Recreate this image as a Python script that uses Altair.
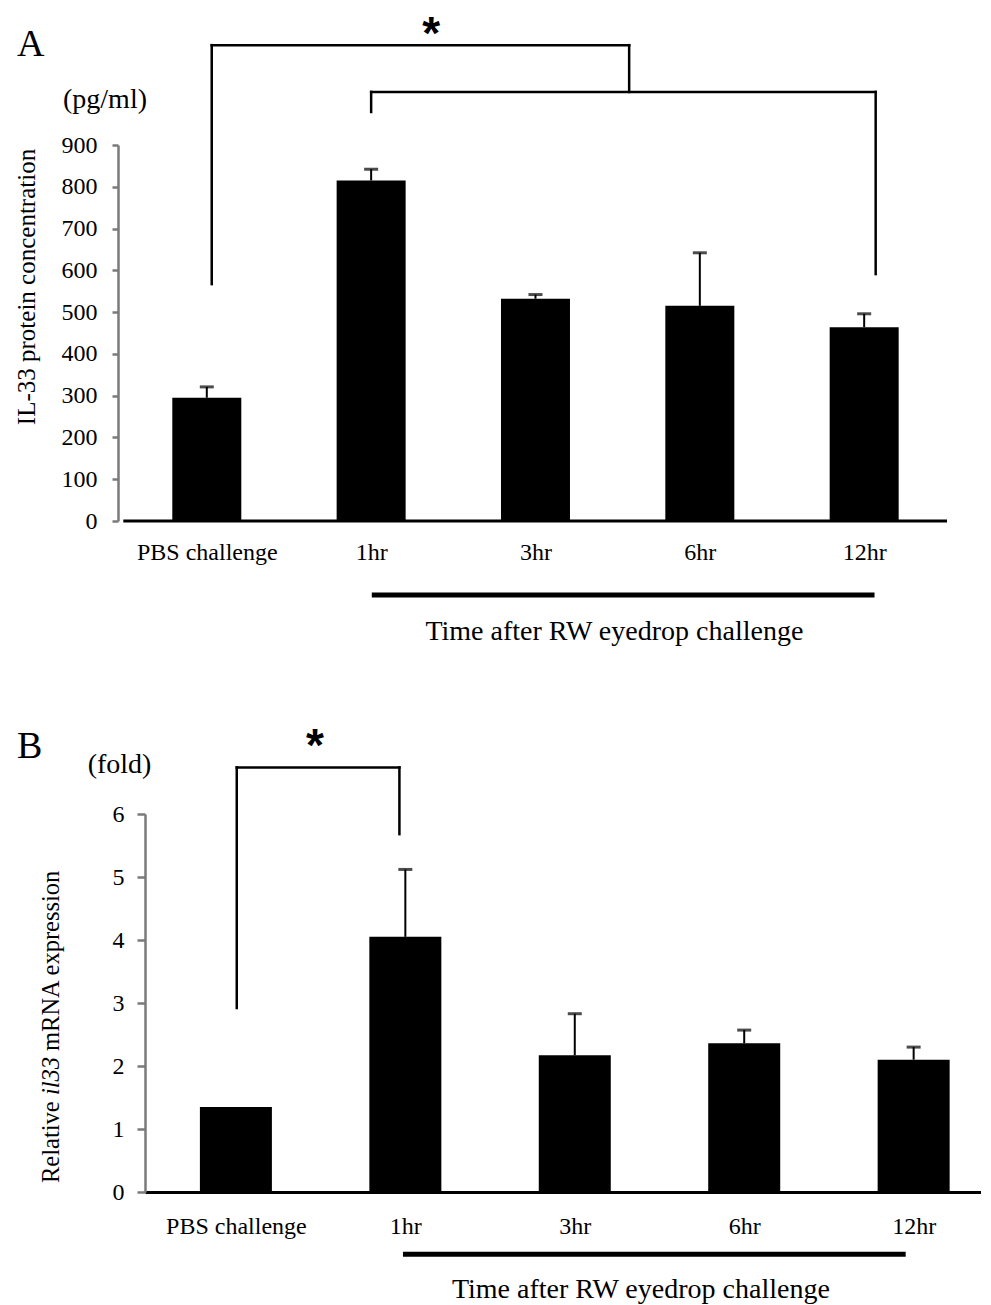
import json
import altair as alt
import pandas as pd

# ---------------- data ----------------
categories = ["PBS challenge", "1hr", "3hr", "6hr", "12hr"]
positions = [0, 1, 2, 3, 4]

# Panel A: IL-33 protein concentration (pg/ml), mean and upper error
protein_mean = [295, 815, 532, 515, 464]
protein_err = [26, 27, 10, 127, 32]
protein_ticks = [0, 100, 200, 300, 400, 500, 600, 700, 800, 900]

# Panel B: relative il33 mRNA expression (fold), mean and upper error
mrna_mean = [1.35, 4.05, 2.17, 2.36, 2.10]
mrna_err = [0.0, 1.07, 0.66, 0.21, 0.20]
mrna_ticks = [0, 1, 2, 3, 4, 5, 6]

# significance brackets, as segments in data units (x = category position)
bracketA_x1 = [0.03, 0.03, 2.57, 1.00, 1.00, 4.07]
bracketA_x2 = [0.03, 2.57, 2.57, 4.07, 1.00, 4.07]
bracketA_y1 = [567, 1139, 1027, 1027, 979, 591]
bracketA_y2 = [1139, 1139, 1139, 1027, 1027, 1027]

bracketB_x1 = [0.005, 0.005, 0.965]
bracketB_x2 = [0.005, 0.965, 0.965]
bracketB_y1 = [2.92, 6.74, 5.68]
bracketB_y2 = [6.74, 6.74, 6.74]

starA = {"x": [1.366], "y": [1163], "t": ["*"]}
starB = {"x": [0.466], "y": [7.07], "t": ["*"]}

underlineA = {"x": [1.004], "x2": [4.063], "y": [-177]}
underlineB = {"x": [0.986], "x2": [3.953], "y": [-0.99]}

# x-axis baseline extent of panel A (its y axis sits left of the plot origin)
baselineA = {"x": [-0.508], "x2": [4.504], "y": [0]}

time_label = "Time after RW eyedrop challenge"
timeA = {"x": [2.48], "y": [-266], "t": [time_label]}
timeB = {"x": [2.39], "y": [-1.55], "t": [time_label]}

SERIF = "Liberation Serif"
SANS = "Liberation Sans"


def xaxis(pad, domain):
    return alt.Axis(values=positions,
                    labelExpr=json.dumps(categories) + "[datum.value]",
                    title=None, ticks=False, grid=False, domain=domain,
                    domainColor="black", domainWidth=3,
                    labelFont=SERIF, labelFontSize=24, labelColor="black",
                    labelPadding=pad, labelOverlap=False, labelFlush=False)


def yaxis(ticks, tsize, pad, offset):
    return alt.Axis(values=ticks, title=None, grid=False, offset=offset,
                    domainColor="#7a7a7a", domainWidth=2.5,
                    tickColor="#7a7a7a", tickWidth=2.5, tickSize=tsize,
                    labelFont=SERIF, labelFontSize=24, labelColor="black",
                    labelPadding=pad, labelFlush=False, labelOverlap=False)


def panel(mean, err, ticks, xdom, ydom, width, height, bar_size, xpad, ytsize, ypad, yoffset,
          bx1, bx2, by1, by2, star, underline, timet, texts, frame, baseline=None):
    xs = alt.Scale(domain=xdom, nice=False, zero=False)
    ys = alt.Scale(domain=ydom, nice=False, zero=False)
    xa = xaxis(xpad, baseline is None)
    ya = yaxis(ticks, ytsize, ypad, yoffset)

    def X(f):
        return alt.X(f, scale=xs, axis=xa)

    def Y(f):
        return alt.Y(f, scale=ys, axis=ya)

    df = pd.DataFrame({"x": positions, "cat": categories, "mean": mean, "err": err})
    df["top"] = df["mean"] + df["err"]

    layers = []
    bars = alt.Chart(df).mark_bar(size=bar_size, color="black").encode(
        x=X("x:Q"), y=Y("mean:Q"))
    layers.append(bars)
    if baseline is not None:
        layers.append(alt.Chart(pd.DataFrame(baseline)).mark_rule(
            color="black", strokeWidth=3).encode(x=X("x:Q"), x2="x2:Q", y=Y("y:Q")))
    stems = alt.Chart(df).transform_filter("datum.err > 0").mark_rule(
        color="black", strokeWidth=2).encode(x=X("x:Q"), y=Y("mean:Q"), y2="top:Q")
    caps = alt.Chart(df).transform_filter("datum.err > 0").mark_tick(
        orient="horizontal", size=14, thickness=3, color="black").encode(
        x=X("x:Q"), y=Y("top:Q"))

    dbr = pd.DataFrame({"x1": bx1, "x2": bx2, "y1": by1, "y2": by2})
    brackets = alt.Chart(dbr).mark_rule(color="black", strokeWidth=2.5, strokeCap="square").encode(
        x=X("x1:Q"), x2="x2:Q", y=Y("y1:Q"), y2="y2:Q")

    stars = alt.Chart(pd.DataFrame(star)).mark_text(
        font=SANS, fontWeight="bold", fontSize=46, baseline="middle", align="center",
        color="black").encode(x=X("x:Q"), y=Y("y:Q"), text="t:N")

    uline = alt.Chart(pd.DataFrame(underline)).mark_rule(color="black", strokeWidth=5).encode(
        x=X("x:Q"), x2="x2:Q", y=Y("y:Q"))

    ttext = alt.Chart(pd.DataFrame(timet)).mark_text(
        font=SERIF, fontSize=28, baseline="middle", align="center", color="black").encode(
        x=X("x:Q"), y=Y("y:Q"), text="t:N")

    layers += [stems, caps, brackets, stars, uline, ttext]

    for t in texts:
        layers.append(alt.Chart(pd.DataFrame({"t": [t["text"]]})).mark_text(
            font=SERIF, fontSize=t["size"], fontStyle=t.get("style", "normal"),
            align=t["align"], baseline="middle", angle=t.get("angle", 0),
            color="black").encode(x=alt.value(t["px"]), y=alt.value(t["py"]), text="t:N"))

    layers.append(alt.Chart(pd.DataFrame({"a": [0]})).mark_rule(
        strokeOpacity=0, strokeWidth=1).encode(
        x=alt.value(frame[0]), y=alt.value(frame[1]), y2=alt.value(frame[2])))

    return alt.layer(*layers).properties(width=width, height=height)


# Panel A: plot origin shares x with panel B; its y axis is offset 27px to the left
chartA = panel(
    protein_mean, protein_err, protein_ticks,
    [-0.3456, 4.504], [0, 900], 807, 376, 69, 19, 6, 15, 27,
    bracketA_x1, bracketA_x2, bracketA_y1, bracketA_y2,
    starA, underlineA, timeA,
    [
        {"text": "A", "size": 38, "align": "left", "px": -128, "py": -100},
        {"text": "(pg/ml)", "size": 28, "align": "center", "px": -40, "py": -45},
        {"text": "IL-33 protein concentration", "size": 25, "align": "center",
         "angle": 270, "px": -118, "py": 142},
    ],
    (-137, -137, 535),
    baseline=baselineA,
)

chartB = panel(
    mrna_mean, mrna_err, mrna_ticks,
    [-0.507, 4.368], [0, 6], 836, 378, 72, 22, 8, 13, 0,
    bracketB_x1, bracketB_x2, bracketB_y1, bracketB_y2,
    starB, underlineB, timeB,
    [
        {"text": "B", "size": 38, "align": "left", "px": -128, "py": -67},
        {"text": "(fold)", "size": 28, "align": "center", "px": -25.5, "py": -49},
        {"text": "Relative", "size": 24.5, "align": "left", "angle": 270, "px": -93, "py": 369},
        {"text": "il33", "size": 24.5, "align": "left", "angle": 270, "style": "italic",
         "px": -93, "py": 281},
        {"text": "mRNA expression", "size": 24.5, "align": "left", "angle": 270,
         "px": -93, "py": 237},
    ],
    (-137, -134, 483),
)

chart = alt.concat(chartA, chartB, columns=1, spacing=0, padding=0,
                   background="white").configure_view(stroke=None)

chart.save("out.html", embed_options={"renderer": "svg", "actions": False})
